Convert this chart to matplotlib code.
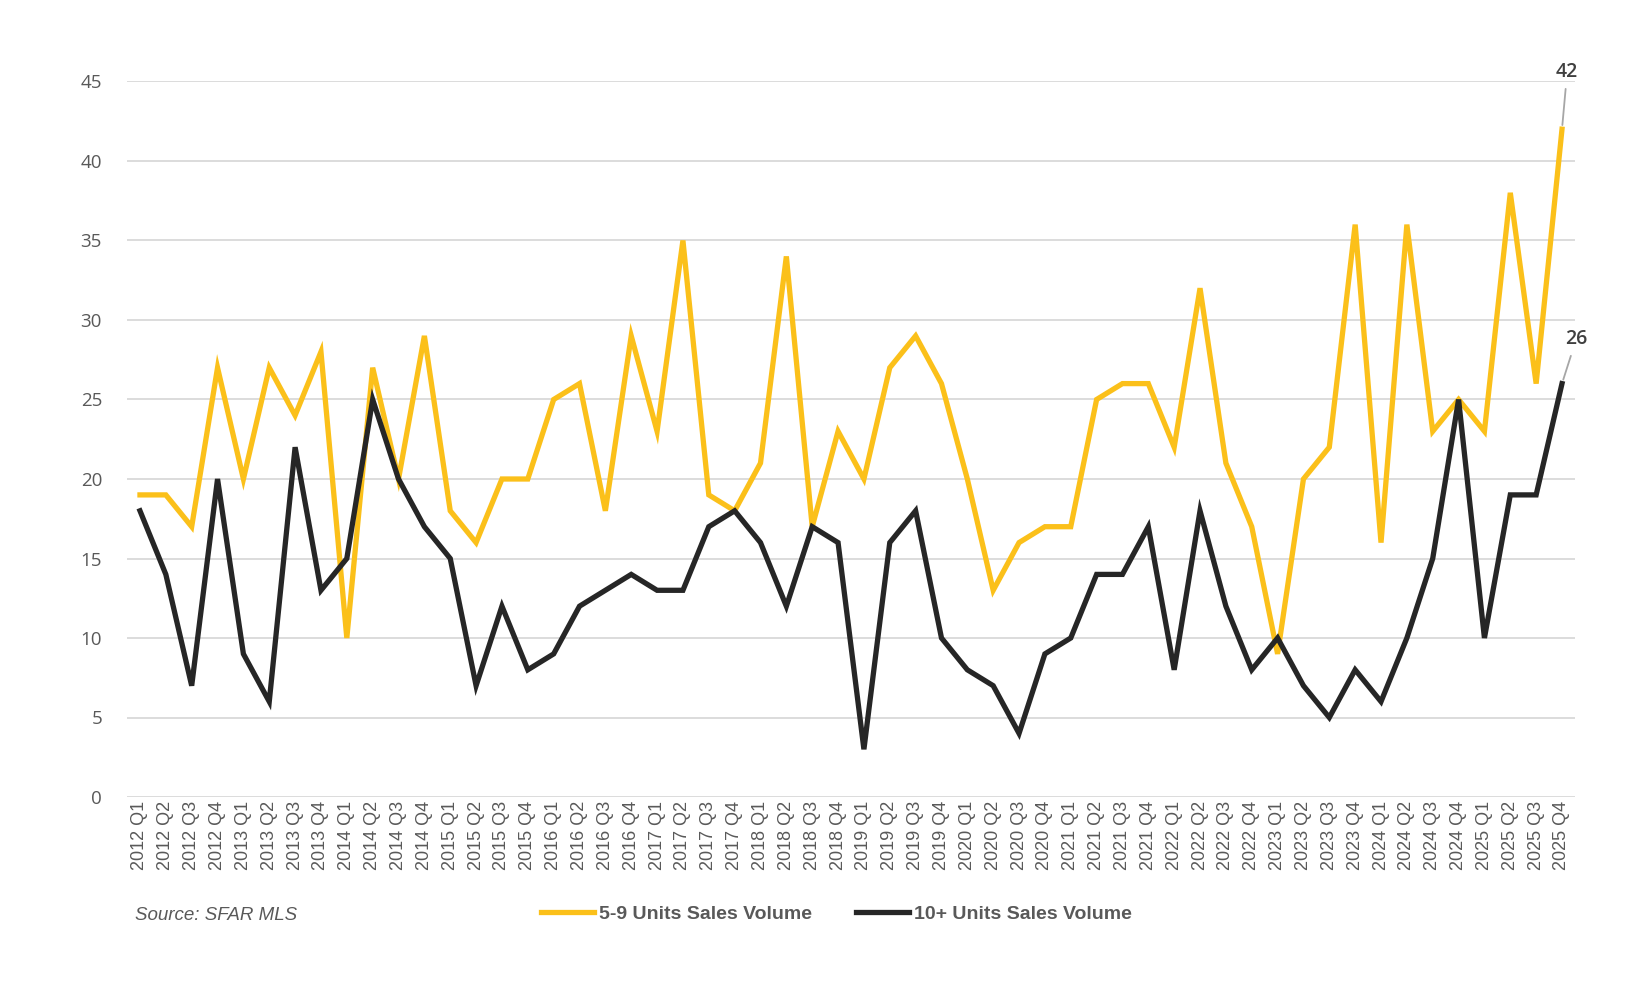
import matplotlib
matplotlib.use("Agg")
import matplotlib.pyplot as plt

years = list(range(2012, 2026))
quarters = ["Q1", "Q2", "Q3", "Q4"]
labels = [f"{y} {q}" for y in years for q in quarters]

units_5_9 = [19, 19, 17, 27,
             20, 27, 24, 28,
             10, 27, 20, 29,
             18, 16, 20, 20,
             25, 26, 18, 29,
             23, 35, 19, 18,
             21, 34, 17, 23,
             20, 27, 29, 26,
             20, 13, 16, 17,
             17, 25, 26, 26,
             22, 32, 21, 17,
             9, 20, 22, 36,
             16, 36, 23, 25,
             23, 38, 26, 42]

units_10p = [18, 14, 7, 20,
             9, 6, 22, 13,
             15, 25, 20, 17,
             15, 7, 12, 8,
             9, 12, 13, 14,
             13, 13, 17, 18,
             16, 12, 17, 16,
             3, 16, 18, 10,
             8, 7, 4, 9,
             10, 14, 14, 17,
             8, 18, 12, 8,
             10, 7, 5, 8,
             6, 10, 15, 25,
             10, 19, 19, 26]

series_names = ["5-9 Units Sales Volume", "10+ Units Sales Volume"]
yticks = [0, 5, 10, 15, 20, 25, 30, 35, 40, 45]

YELLOW = "#FBC01A"
BLACK = "#262626"
GRAY_TXT = "#595959"

fig = plt.figure(figsize=(16.5, 10), dpi=100)
ax = fig.add_axes([0.077, 0.203, 0.8775, 0.7155])

x = list(range(len(labels)))
ax.plot(x, units_5_9, color=YELLOW, lw=3.8, solid_joinstyle="miter", label=series_names[0], zorder=3)
ax.plot(x, units_10p, color=BLACK, lw=3.8, solid_joinstyle="miter", label=series_names[1], zorder=4)

ax.set_xlim(-0.5, len(labels) - 0.5)
ax.set_ylim(0, 45)
ax.set_yticks(yticks)
ax.yaxis.grid(True, color="#D9D9D9", lw=1.3)
ax.set_axisbelow(True)
for s in ax.spines.values():
    s.set_visible(False)
ax.set_xticks(x)
ax.set_xticklabels(labels, rotation=90, family="Liberation Sans", fontsize=13, color=GRAY_TXT)
for t in ax.get_yticklabels():
    t.set_family(["Open Sans", "DejaVu Sans"])
    t.set_fontsize(13.5)
    t.set_color(GRAY_TXT)
ax.tick_params(axis="both", length=0)
ax.tick_params(axis="x", pad=3)
ax.tick_params(axis="y", pad=18)

# end labels
last = len(labels) - 1
ax.annotate(str(units_5_9[-1]), xy=(last, units_5_9[-1]), xytext=(last + 0.2, 45.6),
            ha="center", va="center", fontsize=14, fontweight="semibold", color="#404040",
            family=["Open Sans", "DejaVu Sans"],
            arrowprops=dict(arrowstyle="-", color="#A6A6A6", lw=1.3, shrinkA=3, shrinkB=3),
            annotation_clip=False)
ax.annotate(str(units_10p[-1]), xy=(last, units_10p[-1]), xytext=(last + 0.55, 28.8),
            ha="center", va="center", fontsize=14, fontweight="semibold", color="#404040",
            family=["Open Sans", "DejaVu Sans"],
            arrowprops=dict(arrowstyle="-", color="#A6A6A6", lw=1.3, shrinkA=3, shrinkB=3),
            annotation_clip=False)

leg = fig.legend(loc="center", bbox_to_anchor=(0.507, 0.086), ncol=2, frameon=False,
                 handlelength=2.7, handletextpad=0.25, columnspacing=2.3,
                 prop={"family": "Liberation Sans", "size": 14, "weight": "bold"})
for t in leg.get_texts():
    t.set_color(GRAY_TXT)

fig.text(0.082, 0.084, "Source: SFAR MLS", fontsize=13.5, style="italic",
         family="Liberation Sans", color=GRAY_TXT, va="center", ha="left")

fig.savefig("out.png", dpi=100, facecolor="white")
